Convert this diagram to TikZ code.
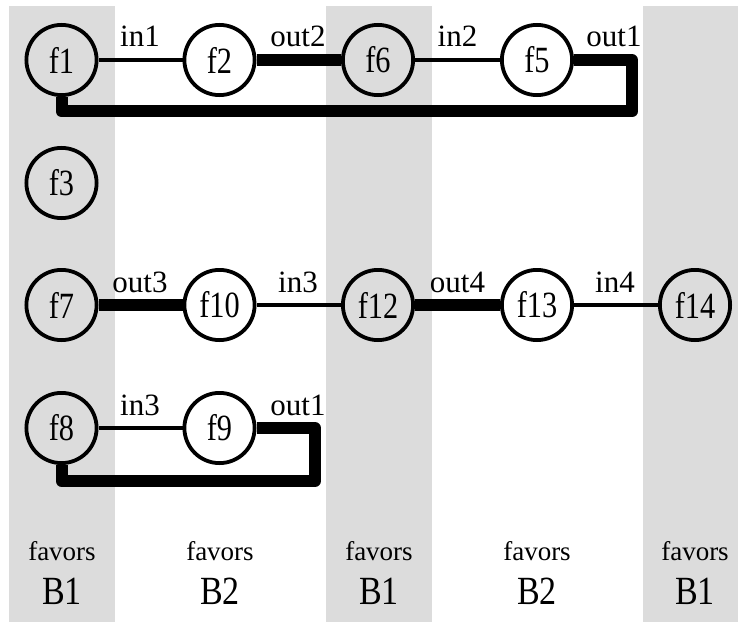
\documentclass[tikz,border=0pt]{standalone}
\usepackage{fontspec}
\setmainfont{Liberation Serif}
\newfontfamily\nodefont{Liberation Serif}[FakeStretch=0.82]
\newfontfamily\bigfont{Liberation Serif}[FakeStretch=0.85]
\definecolor{bandgray}{RGB}{220,220,220}
\begin{document}
\begin{tikzpicture}[x=1pt,y=-1pt,
  fnode/.style={circle,draw,line width=3.8pt,minimum size=70.2pt,inner sep=0pt,
    font=\nodefont\fontsize{37}{37}\selectfont},
  lnk/.style={line width=3.3pt},
  heavy/.style={line width=12pt,line join=round},
  lbl/.style={anchor=base,inner sep=0pt,font=\fontsize{31}{31}\selectfont},
  fav/.style={anchor=base,inner sep=0pt,font=\fontsize{27}{27}\selectfont},
  bb/.style={anchor=base,inner sep=0pt,font=\bigfont\fontsize{40}{40}\selectfont},
]
\useasboundingbox (0,0) rectangle (738,623);
% bands
\fill[bandgray] (9,6) rectangle (115,622);
\fill[bandgray] (326,6) rectangle (432,622);
\fill[bandgray] (643,6) rectangle (738,622);

% nodes
\node[fnode] (f1) at (61.5,60) {f1};
\node[fnode] (f2) at (219.5,60) {f2};
\node[fnode] (f6) at (378,60) {f6};
\node[fnode] (f5) at (537,60) {f5};
\node[fnode] (f3) at (61.5,183) {f3};
\node[fnode] (f7) at (61.5,305) {f7};
\node[fnode] (f10) at (219.5,305) {f10};
\node[fnode] (f12) at (378,305) {f12};
\node[fnode] (f13) at (537,305) {f13};
\node[fnode] (f14) at (695,305) {f14};
\node[fnode] (f8) at (61.5,428) {f8};
\node[fnode] (f9) at (219.5,428) {f9};

% loop corners
\coordinate (a1) at (632,60);
\coordinate (a2) at (632,111.5);
\coordinate (a3) at (61.5,111.5);
\coordinate (b1) at (315,428);
\coordinate (b2) at (315,481);
\coordinate (b3) at (61.5,481);

% connectors
\draw[lnk] (f1) -- (f2);
\draw[heavy] (f2) -- (f6);
\draw[lnk] (f6) -- (f5);
\draw[heavy] (f5) -- (a1) -- (a2) -- (a3) -- (f1);
\draw[heavy] (f7) -- (f10);
\draw[lnk] (f10) -- (f12);
\draw[heavy] (f12) -- (f13);
\draw[lnk] (f13) -- (f14);
\draw[lnk] (f8) -- (f9);
\draw[heavy] (f9) -- (b1) -- (b2) -- (b3) -- (f8);

% edge labels
\node[lbl] (l1) at (140,47) {in1};
\node[lbl] (l2) at (298,47) {out2};
\node[lbl] (l3) at (457.5,47) {in2};
\node[lbl] (l4) at (614,47) {out1};
\node[lbl] (l5) at (140,292) {out3};
\node[lbl] (l6) at (298,292) {in3};
\node[lbl] (l7) at (457.5,292) {out4};
\node[lbl] (l8) at (615,292) {in4};
\node[lbl] (l9) at (140,415) {in3};
\node[lbl] (l10) at (298,415) {out1};

% bottom captions
\node[fav] (v1) at (62,560) {favors};
\node[fav] (v2) at (220,560) {favors};
\node[fav] (v3) at (379,560) {favors};
\node[fav] (v4) at (537,560) {favors};
\node[fav] (v5) at (695,560) {favors};
\node[bb] (b1t) at (62,604) {B1};
\node[bb] (b2t) at (220,604) {B2};
\node[bb] (b3t) at (379,604) {B1};
\node[bb] (b4t) at (537,604) {B2};
\node[bb] (b5t) at (695,604) {B1};
\end{tikzpicture}
\end{document}
